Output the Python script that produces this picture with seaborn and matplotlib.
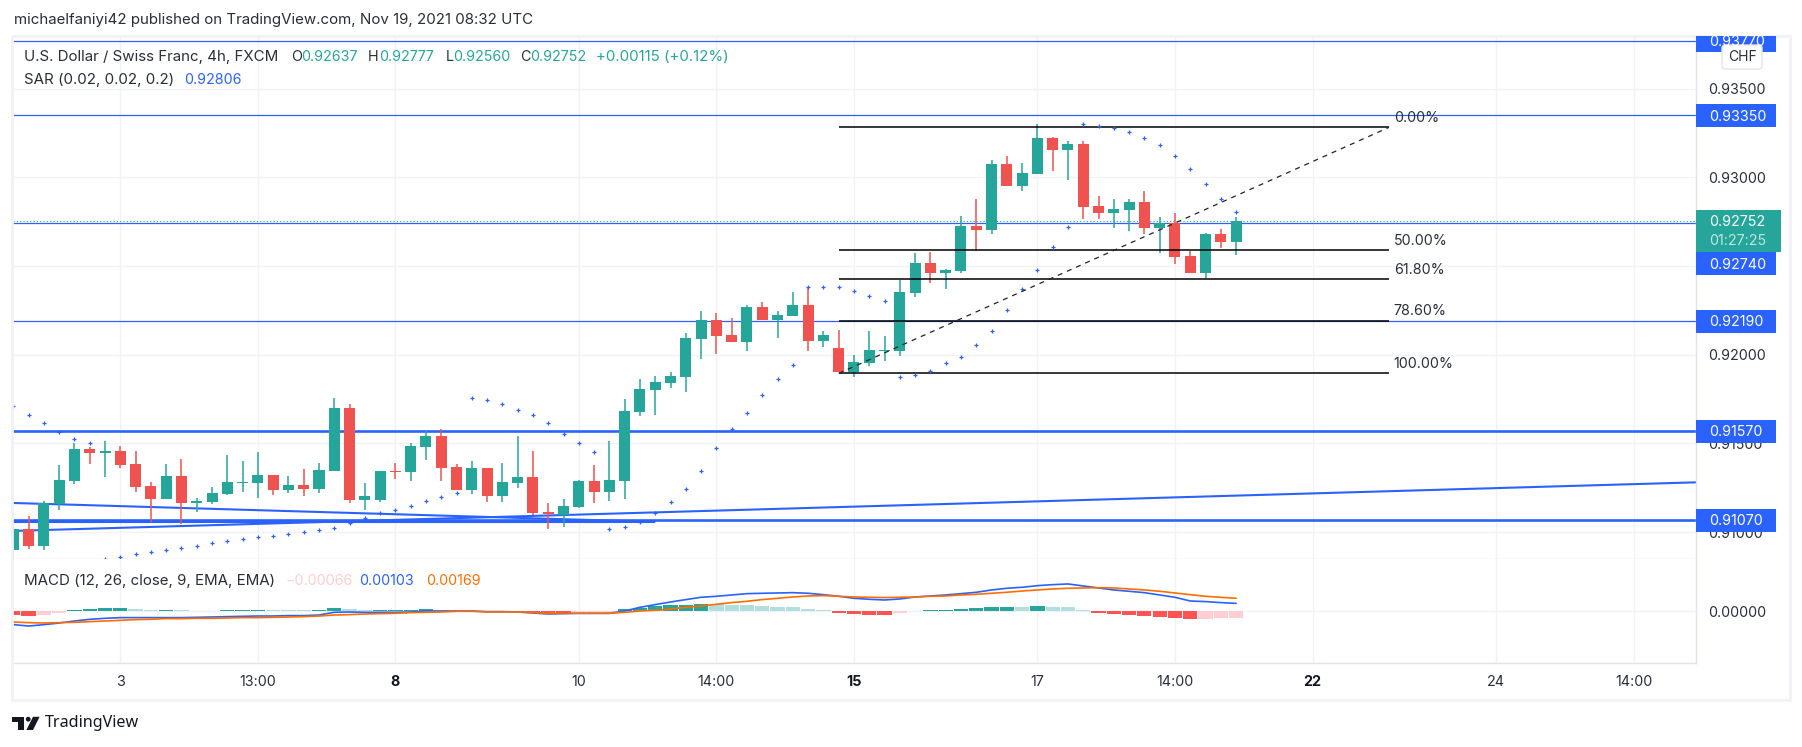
import numpy as np
import pandas as pd
import matplotlib
matplotlib.use("Agg")
import matplotlib.pyplot as plt
from matplotlib.patches import Rectangle, FancyBboxPatch, Polygon, Circle
import seaborn as sns

# ---- values are in 1e-5 price units ----
opens = [90902,91019,90925,91159,91291,91469,91449,91458,91385,91261,91189,91317,91167,91173,91218,91280,91280,91323,91240,91266,91246,91347,91700,91184,91184,91345,91342,91482,91542,91368,91240,91362,91206,91280,91312,91114,91099,91144,91289,91229,91291,91679,91803,91843,91877,92091,92196,92111,92074,92269,92198,92220,92280,92080,92038,91905,91956,92023,92023,92350,92517,92462,92472,92725,92704,93074,92952,93020,93221,93155,93187,92838,92800,92817,92860,92716,92740,92556,92462,92680,92637]
highs = [91041,91092,91176,91379,91503,91481,91514,91486,91458,91283,91385,91413,91193,91255,91435,91402,91452,91323,91317,91357,91390,91757,91723,91278,91345,91390,91503,91571,91582,91385,91402,91362,91390,91542,91458,91165,91188,91295,91379,91514,91751,91864,91880,91903,92123,92247,92235,92207,92280,92297,92247,92354,92382,92134,92140,91999,92134,92106,92421,92573,92579,92483,92781,92877,93097,93119,93080,93300,93227,93204,93204,92894,92877,92877,92922,92776,92798,92586,92686,92708,92777]
lows = [90850,90908,90902,91127,91274,91387,91313,91364,91229,91060,91189,91049,91116,91161,91212,91229,91195,91212,91223,91206,91223,91347,91167,91127,91173,91302,91291,91409,91291,91240,91218,91173,91173,91251,91099,91020,91032,91139,91167,91178,91189,91657,91663,91815,91792,91978,92006,92074,92023,92198,92096,92220,92023,92046,91905,91877,91939,91967,91995,92327,92406,92372,92462,92586,92682,92952,92924,93020,93037,92986,92766,92766,92716,92699,92682,92575,92513,92462,92434,92603,92560]
closes = [91019,90925,91165,91295,91469,91449,91458,91381,91257,91189,91317,91167,91176,91221,91283,91283,91323,91240,91266,91246,91351,91700,91184,91204,91345,91342,91486,91542,91364,91240,91362,91206,91283,91312,91111,91103,91148,91289,91229,91295,91683,91807,91847,91880,92095,92196,92108,92074,92269,92198,92224,92280,92080,92111,91905,91959,92027,92027,92354,92517,92462,92477,92725,92704,93074,92952,93024,93221,93155,93187,92834,92800,92821,92860,92716,92740,92552,92462,92680,92637,92752]
sar = [91710,91659,91614,91563,91524,91501,90850,90859,90876,90887,90898,90910,90921,90938,90949,90960,90972,90977,90988,90999,91011,91022,91050,91079,91107,91124,91146,91174,91197,91219,91755,91743,91721,91687,91659,91614,91552,91501,91450,91017,91028,91056,91107,91169,91242,91343,91473,91580,91670,91771,91862,91941,92380,92380,92380,92357,92329,92301,91873,91884,91907,91952,91986,92053,92132,92250,92368,92475,92605,92718,93298,93287,93275,93253,93219,93180,93118,93044,92960,92875,92806]
macd_line = [-173,-191,-173,-152,-126,-104,-91,-82,-82,-82,-82,-82,-78,-74,-69,-65,-61,-61,-56,-56,-48,-13,-9,-13,-13,-13,-9,4,4,4,4,-4,-4,-9,-22,-35,-30,-26,-26,-26,4,52,87,121,152,182,195,212,229,234,238,242,234,216,195,169,156,147,160,186,199,212,229,247,277,299,312,333,346,355,329,303,277,260,242,212,182,134,126,113,103]
signal_line = [-139,-147,-152,-147,-143,-134,-126,-117,-108,-104,-95,-95,-91,-91,-87,-82,-82,-78,-74,-69,-61,-48,-43,-35,-30,-26,-17,-13,-9,0,0,-9,-9,-9,-17,-26,-26,-26,-26,-26,-13,4,13,30,52,69,91,113,130,152,169,186,199,204,195,186,182,178,182,186,195,199,212,221,234,247,264,277,290,299,303,307,303,290,277,260,238,216,195,182,169]
hist_vals = [-48,-61,-48,-22,17,30,43,43,30,17,17,17,4,4,17,17,17,17,17,17,17,43,30,17,17,17,17,30,17,4,4,-13,-13,-13,-26,-26,-26,-13,-13,-13,30,43,69,78,82,95,95,82,82,69,56,56,30,17,-22,-35,-48,-48,-22,4,17,17,30,43,56,56,56,69,56,56,17,-22,-35,-48,-61,-74,-87,-100,-100,-87,-87]
hist_kind = list("RRPPTTTTLLTLLLTTTLLLTTLLTTTTLLLRRRRRRPPPTTTTTTLLLLLLLLRRRRPTTTTTTTLTLLLRRRRRRRPPP")

h_levels = [0.9377, 0.9335, 0.9274, 0.9219, 0.9157, 0.9107]
y_ticks = [0.935, 0.93, 0.925, 0.92, 0.915, 0.91]
x_ticks = [7, 16, 25, 37, 46, 55, 67, 76, 85, 97, 106]
x_labels = ['3', '13:00', '8', '10', '14:00', '15', '17', '14:00', '22', '24', '14:00']
bold_labels = ['8', '15', '22']
fib_high = 0.93281
fib_low = 0.91895
fib_ratios = [0.0, 0.5, 0.618, 0.786, 1.0]
fib_names = ['0.00%', '50.00%', '61.80%', '78.60%', '100.00%']
fib_bars = (54, 90)
# drawn trend lines: (bar0, price0, bar1, price1, width)
trend_a = (-0.1, 0.91165, 42, 0.91058, 1.5)
trend_b = (-0.1, 0.91007, 110.1, 0.91281, 1.5)
trend_c = (-0.1, 0.91055, 42, 0.91055, 1.5)

W, H = 1802, 747
FONT = 'Inter'
TXT = '#2a2e39'
TEAL, RED, BLUE, ORANGE = '#26a69a', '#ef5350', '#2962ff', '#ff6d00'
GRID, SEP = '#f1f2f6', '#e0e3eb'
TSIZE = 10.3
WORDS = 10.85

sns.set_theme(style='white')
plt.rcParams['font.family'] = [FONT, 'DejaVu Sans']

L, R, T0, B0, B1 = 12.5, 1695.5, 36, 559, 663
fig = plt.figure(figsize=(W / 100, H / 100), dpi=100, facecolor='white')
def axpx(x0, y0, x1, y1):
    return [x0 / W, 1 - y1 / H, (x1 - x0) / W, (y1 - y0) / H]

ax = fig.add_axes(axpx(L, T0, R, B0))
ax2 = fig.add_axes(axpx(L, B0, R, B1), sharex=ax)

df = pd.DataFrame({'bar': np.arange(len(opens)),
                   'open': np.array(opens) / 1e5, 'high': np.array(highs) / 1e5,
                   'low': np.array(lows) / 1e5, 'close': np.array(closes) / 1e5,
                   'sar': np.array(sar) / 1e5, 'macd': np.array(macd_line) / 1e5,
                   'signal': np.array(signal_line) / 1e5,
                   'hist': np.array(hist_vals) / 1e5, 'kind': hist_kind})

# main pane
for y in y_ticks:
    ax.axhline(y, color=GRID, lw=1.0, zorder=0)
for a in (ax, ax2):
    for x in x_ticks:
        a.axvline(x, color=GRID, lw=1.0, zorder=0)

for lev in h_levels:
    lw = 1.9 if lev in (0.9157, 0.9107) else 0.9
    ax.axhline(lev, color=BLUE, lw=lw, zorder=1.5)
for x0, y0, x1, y1, w in (trend_a, trend_b, trend_c):
    ax.plot([x0, x1], [y0, y1], color=BLUE, lw=w, zorder=1.5, solid_capstyle='butt')
ax.axhline(df['close'].iloc[-1], color=TEAL, lw=0.8, ls=(0, (1, 2)), zorder=1.4)

colors = np.where(df['close'] >= df['open'], TEAL, RED)
ax.vlines(df['bar'], df['low'], df['high'], colors=colors, lw=1.1, zorder=2)
ax.bar(df['bar'], (df['close'] - df['open']).abs().clip(lower=1.2e-5),
       bottom=df[['open', 'close']].min(axis=1), width=0.72, color=colors, zorder=2.1, lw=0)

sns.scatterplot(data=df, x='bar', y='sar', marker='+', s=9, color=BLUE, linewidth=0.9,
                ax=ax, zorder=3, legend=False)

# fibonacci
for r in fib_ratios:
    lv = fib_high - r * (fib_high - fib_low)
    ax.plot(fib_bars, [lv, lv], color='black', lw=1.1, zorder=2.5, solid_capstyle='butt')
ax.plot(fib_bars, [fib_low, fib_high], color='#222222', lw=0.9, ls=(0, (4, 4)), zorder=3.5)
for r, n in zip(fib_ratios, fib_names):
    lv = fib_high - r * (fib_high - fib_low)
    ax.annotate(n, (fib_bars[1], lv), xytext=(3.5, 7), textcoords='offset points',
                va='center', ha='left', fontsize=TSIZE, color=TXT, family=FONT)

ax.set_ylim(0.90849, 0.93796)
ax.set_yticks(y_ticks)
ax.set_yticklabels([f'{t:.5f}' for t in y_ticks])
ax.yaxis.tick_right()
ax.tick_params(axis='y', length=0, pad=9, labelsize=TSIZE, labelcolor=TXT)
ax.tick_params(axis='x', length=0, labelbottom=False)
ax.set_xlabel(''); ax.set_ylabel('')

# MACD pane
palette = {'T': TEAL, 'L': '#b2dfdb', 'R': '#ff5252', 'P': '#ffcdd2'}
sns.barplot(data=df, x='bar', y='hist', hue='kind', palette=palette, native_scale=True,
            dodge=False, width=0.93, legend=False, ax=ax2, zorder=2, linewidth=0, saturation=1)
sns.lineplot(data=df, x='bar', y='macd', color=BLUE, lw=1.2, ax=ax2, zorder=3)
sns.lineplot(data=df, x='bar', y='signal', color=ORANGE, lw=1.2, ax=ax2, zorder=3.1)
ax2.axhline(0, color=GRID, lw=1.0, zorder=0)
ax2.set_ylim(-0.00671, 0.00679)
ax2.set_yticks([0.0])
ax2.set_yticklabels(['0.00000'])
ax2.yaxis.tick_right()
ax2.set_xlabel(''); ax2.set_ylabel('')
ax2.set_xticks(x_ticks)
ax2.set_xticklabels(x_labels)
ax2.tick_params(axis='y', length=0, pad=9, labelsize=TSIZE, labelcolor=TXT)
ax2.tick_params(axis='x', length=0, pad=9, labelsize=TSIZE, labelcolor=TXT, labelbottom=True)
for t, s in zip(ax2.get_xticklabels(), x_labels):
    if s in bold_labels:
        t.set_fontweight('bold'); t.set_color('#131722')

xlim = ((L - 13.3) / 15.285, (R - 13.3) / 15.285)
ax.set_xlim(*xlim); ax2.set_xlim(*xlim)
for a in (ax, ax2):
    for s in ('top', 'left'):
        a.spines[s].set_visible(False)
    for s in ('right', 'bottom'):
        a.spines[s].set_color(SEP); a.spines[s].set_linewidth(1.0)

# overlay in pixel coordinates for price tags, legends and branding
ov = fig.add_axes([0, 0, 1, 1], zorder=10)
ov.set_xlim(0, W); ov.set_ylim(H, 0); ov.axis('off'); ov.patch.set_alpha(0)
def txt(x, y, s, c=TXT, size=TSIZE, **kw):
    kw.setdefault('ha', 'left'); kw.setdefault('va', 'center')
    ov.text(x, y, s, color=c, fontsize=size, family=FONT, **kw)

ov.add_patch(Rectangle((12, 35.5), 1777.5, 664.5, fill=False, ec=GRID, lw=2))

for p, yc, y0, y1 in ((0.9377, 42, 36, 52), (0.9335, 116.7, 104, 127), (0.9274, 265, 252, 275),
                      (0.9219, 322.5, 310, 333), (0.9157, 432, 420, 443), (0.9107, 521, 509, 532)):
    ov.add_patch(Rectangle((1695.5, y0), 80.5, y1 - y0, fc=BLUE, ec='none'))
    txt(1709, yc, f'{p:.5f}', 'white')
ov.add_patch(Rectangle((1695.5, 210), 85.5, 42, fc=TEAL, ec='none'))
txt(1709, 222, '0.92752', 'white')
txt(1709, 241, '01:27:25', '#bfe5e1')
ov.add_patch(FancyBboxPatch((1724, 47), 36, 20, boxstyle='round,pad=2,rounding_size=3',
                            fc='white', ec=SEP, lw=1))
txt(1742, 57, 'CHF', TXT, 10, ha='center')

txt(13.5, 20, 'michaelfaniyi42 published on TradingView.com, Nov 19, 2021 08:32 UTC', size=WORDS)
txt(24, 56.7, 'U.S. Dollar / Swiss Franc, 4h, FXCM', size=WORDS)
for x, lab, xv, val in ((291, 'O', 301, '0.92637'), (368, 'H', 379, '0.92777'),
                        (446, 'L', 453.5, '0.92560'), (520.5, 'C', 530, '0.92752')):
    txt(x, 56.7, lab); txt(xv, 56.7, val, TEAL)
txt(596, 56.7, '+0.00115 (+0.12%)', TEAL, size=WORDS)
txt(24, 80, 'SAR (0.02, 0.02, 0.2)', size=WORDS)
txt(184.5, 80, '0.92806', BLUE)
txt(24, 580.7, 'MACD (12, 26, close, 9, EMA, EMA)', size=WORDS)
txt(285.5, 580.7, '\u22120.00066', '#ffcdd2')
txt(359.5, 580.7, '0.00103', BLUE)
txt(426, 580.7, '0.00169', ORANGE)

# logo
ov.add_patch(Polygon([(12.4, 716.8), (24, 716.8), (24, 730), (18.4, 730), (18.4, 721.6), (12.4, 721.6)], fc='#131722', ec='none'))
ov.add_patch(Circle((28.2, 719.2), 2.4, fc='#131722', ec='none'))
ov.add_patch(Polygon([(33, 716.8), (39.6, 716.8), (33, 730), (26.4, 730)], fc='#131722', ec='none'))
ov.text(44.5, 723, 'TradingView', color='#131722', fontsize=11.6, family='Noto Sans', va='center')

fig.savefig('out.png', dpi=100, facecolor='white')
